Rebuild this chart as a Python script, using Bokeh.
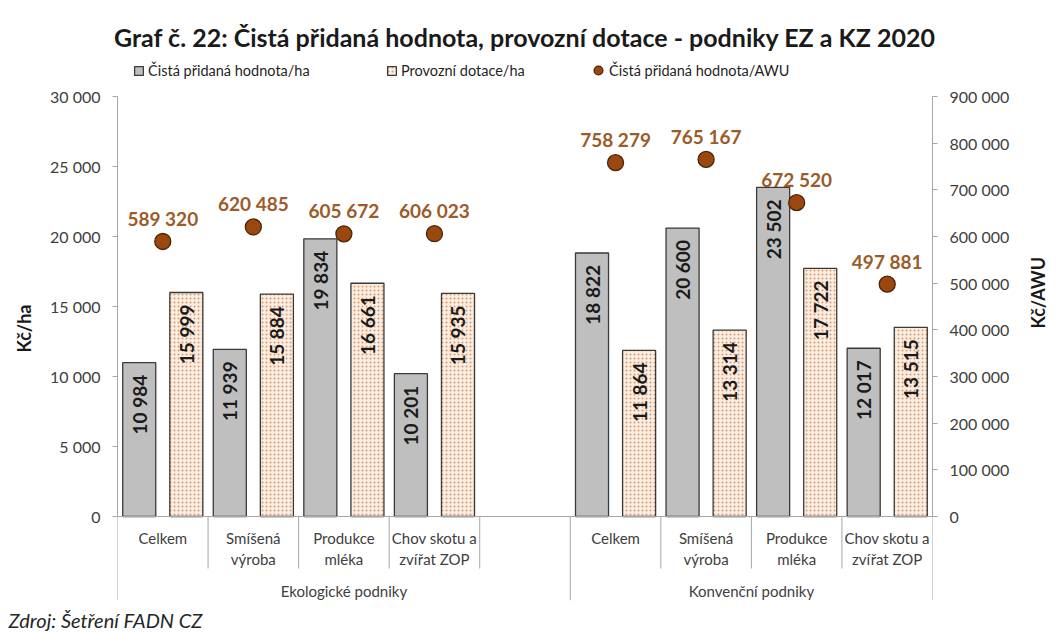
import math
from bokeh.plotting import figure
from bokeh.models import (Range1d, LinearAxis, FixedTicker, Span, Legend, LegendItem,
                          Title, ColumnDataSource)
from bokeh.embed import file_html
from bokeh.resources import INLINE
from bokeh.core.properties import value

# ---------------- data ----------------
groups = ["Ekologické podniky", "Konvenční podniky"]
categories = ["Celkem", "Smíšená\nvýroba", "Produkce\nmléka", "Chov skotu a\nzvířat ZOP"]
cph_ha_ez = [10984, 11939, 19834, 10201]
dotace_ha_ez = [15999, 15884, 16661, 15935]
cph_awu_ez = [589320, 620485, 605672, 606023]
cph_ha_kz = [18822, 20600, 23502, 12017]
dotace_ha_kz = [11864, 13314, 17722, 13515]
cph_awu_kz = [758279, 765167, 672520, 497881]
left_ticks = [0, 5000, 10000, 15000, 20000, 25000, 30000]
right_ticks = [0, 100000, 200000, 300000, 400000, 500000, 600000, 700000, 800000, 900000]
series_names = ["Čistá přidaná hodnota/ha", "Provozní dotace/ha", "Čistá přidaná hodnota/AWU"]
title_text = "Graf č. 22: Čistá přidaná hodnota, provozní dotace - podniky EZ a KZ 2020"
source_text = "Zdroj: Šetření FADN CZ"

FONT = "Lato"
def fmt(v):
    return f"{v:,}".replace(",", " ")

# ---------------- geometry ----------------
n_cat = len(categories)
slots = list(range(n_cat)) + [n_cat + 1 + i for i in range(n_cat)]   # blank slot between groups
n_slots = 2 * n_cat + 1
centers = [s + 0.5 for s in slots]

FRAME_W, FRAME_H = 815, 544
PX_PER_UNIT = 14 / 1000.0            # 14 px per 1000 Kč/ha
y_lo = -84 / PX_PER_UNIT
y_hi = 30000 + 40 / PX_PER_UNIT
ratio = right_ticks[-1] / left_ticks[-1]

def px(p):          # pixels below the zero line -> data units (left axis)
    return -p / PX_PER_UNIT

off = 0.26
bw = 0.365
gray_x = [c - off for c in centers]
dot_x = [c + off for c in centers]
cph_ha = cph_ha_ez + cph_ha_kz
dotace_ha = dotace_ha_ez + dotace_ha_kz
cph_awu = cph_awu_ez + cph_awu_kz

p = figure(frame_width=FRAME_W, frame_height=FRAME_H,
           x_range=Range1d(0, n_slots), y_range=Range1d(y_lo, y_hi),
           x_axis_location=None, output_backend="svg", toolbar_location=None,
           min_border_left=117, min_border_right=120, min_border_top=56, min_border_bottom=30)
p.extra_y_ranges = {"awu": Range1d(y_lo * ratio, y_hi * ratio)}
p.outline_line_color = None
p.background_fill_color = "white"
p.border_fill_color = "white"
p.ygrid.grid_line_color = None
p.xgrid.grid_line_color = None

AXIS_GRAY = "#A6A6A6"
TICK_COLOR = "#404040"

# left axis
ya = p.yaxis[0]
ya.bounds = (0, left_ticks[-1])
ya.ticker = FixedTicker(ticks=left_ticks)
ya.major_label_overrides = {t: fmt(t) for t in left_ticks}
ya.minor_tick_line_color = None
ya.major_tick_in = 0
ya.major_tick_out = 5
ya.axis_line_color = AXIS_GRAY
ya.major_tick_line_color = AXIS_GRAY
ya.major_label_text_font = FONT
ya.major_label_text_font_size = "16px"
ya.major_label_text_color = TICK_COLOR
ya.major_label_standoff = 12
ya.axis_label = "Kč/ha"
ya.axis_label_text_font = FONT
ya.axis_label_text_font_size = "18px"
ya.axis_label_text_font_style = "bold"
ya.axis_label_text_color = "#1a1a1a"
ya.axis_label_standoff = 12

# right axis
ra = LinearAxis(y_range_name="awu", bounds=(0, right_ticks[-1]))
ra.ticker = FixedTicker(ticks=right_ticks)
ra.major_label_overrides = {t: fmt(t) for t in right_ticks}
ra.minor_tick_line_color = None
ra.major_tick_in = 0
ra.major_tick_out = 5
ra.axis_line_color = AXIS_GRAY
ra.major_tick_line_color = AXIS_GRAY
ra.major_label_text_font = FONT
ra.major_label_text_font_size = "16px"
ra.major_label_text_color = TICK_COLOR
ra.major_label_standoff = 12
ra.axis_label = "Kč/AWU"
ra.axis_label_text_font = FONT
ra.axis_label_text_font_size = "18px"
ra.axis_label_text_font_style = "bold"
ra.axis_label_text_color = "#1a1a1a"
ra.axis_label_standoff = 26
if "axis_label_orientation" in ra.properties():
    ra.axis_label_orientation = math.pi / 2
p.add_layout(ra, "right")

# zero line and category separators
p.add_layout(Span(location=0, dimension="width", line_color=AXIS_GRAY, line_width=1))
short_sep = [s for s in range(1, n_slots) if s != n_cat + 1]
long_sep = [0, n_cat + 1, n_slots]
p.segment(x0=short_sep, y0=[0] * len(short_sep), x1=short_sep, y1=[px(52)] * len(short_sep),
          line_color=AXIS_GRAY, line_width=1)
p.segment(x0=long_sep, y0=[0] * len(long_sep), x1=long_sep, y1=[px(84)] * len(long_sep),
          line_color=AXIS_GRAY, line_width=1)

# bars and points
src_g = ColumnDataSource(dict(x=gray_x, top=cph_ha, lab=[fmt(v) for v in cph_ha]))
src_d = ColumnDataSource(dict(x=dot_x, top=dotace_ha, lab=[fmt(v) for v in dotace_ha]))
src_a = ColumnDataSource(dict(x=centers, y=cph_awu, lab=[fmt(v) for v in cph_awu]))

GRAY_STYLE = dict(fill_color="#BFBFBF", line_color="#3A3A3A", line_width=1.3)
DOT_STYLE = dict(fill_color="#FDEDE0", line_color="#3A3A3A", line_width=1.3,
                 hatch_pattern="dot", hatch_color="#CF9C76", hatch_scale=4, hatch_weight=1.1)
PT_STYLE = dict(fill_color="#9A480F", line_color="#4A2406", line_width=1.3)

r_gray = p.vbar(x="x", top="top", bottom=0, width=bw, source=src_g, **GRAY_STYLE)
r_dot = p.vbar(x="x", top="top", bottom=0, width=bw, source=src_d, **DOT_STYLE)
r_awu = p.scatter(x="x", y="y", source=src_a, y_range_name="awu", marker="circle", size=16,
                  **PT_STYLE)

LABEL_SIZE = "19px"
for src in (src_g, src_d):
    p.text(x="x", y="top", text="lab", source=src, angle=math.pi / 2,
           text_align="right", text_baseline="middle", y_offset=12,
           text_font=value(FONT), text_font_size=LABEL_SIZE, text_font_style="bold",
           text_color="#1a1a1a")
p.text(x="x", y="y", text="lab", source=src_a, y_range_name="awu",
       text_align="center", text_baseline="alphabetic", y_offset=-23,
       text_font=value(FONT), text_font_size="19px", text_font_style="bold",
       text_color="#9C5B28")

# category and group labels
cat_src = ColumnDataSource(dict(x=centers, lab=categories * 2))
p.text(x="x", y=px(12), text="lab", source=cat_src, text_align="center", text_baseline="top",
       text_font=value(FONT), text_font_size="15px", text_color=TICK_COLOR, text_line_height=1.2)
grp_src = ColumnDataSource(dict(x=[(long_sep[0] + long_sep[1]) / 2, (long_sep[1] + long_sep[2]) / 2],
                                lab=groups))
p.text(x="x", y=px(74), text="lab", source=grp_src, text_align="center", text_baseline="middle",
       text_font=value(FONT), text_font_size="15px", text_color=TICK_COLOR)

# legend: one entry per legend box so that each is placed where the reference has it
LEG_Y = 70          # legend centre line, px from top
def add_legend(label, rend, x_px, glyph, standoff):
    h = max(glyph, 20)
    lg = Legend(items=[LegendItem(label=label, renderers=[rend])],
                orientation="horizontal", location=(x_px - 117, 600 - (LEG_Y + h / 2)),
                label_text_font=FONT, label_text_font_size="14.5px", label_text_color="#1f1f1f",
                glyph_width=glyph, glyph_height=glyph, label_standoff=standoff,
                padding=0, margin=0, border_line_color=None, background_fill_alpha=0,
                label_height=20)
    p.add_layout(lg)

add_legend(series_names[0], r_gray, 133, 11, 4)
add_legend(series_names[1], r_dot, 386, 11, 4)
add_legend(series_names[2], r_awu, 587, 22, 0)

# title and source note
p.title.text = title_text
p.title.align = "center"
p.title.offset = 4
p.title.text_font = FONT
p.title.text_font_size = "25px"
p.title.text_font_style = "bold"
p.title.text_color = "#1a1a1a"

p.add_layout(Title(text=source_text, align="left", offset=-109, text_font=FONT,
                   text_font_size="20px", text_font_style="italic", text_color="#262626"), "below")

open("out.html", "w").write(file_html(p, INLINE))
